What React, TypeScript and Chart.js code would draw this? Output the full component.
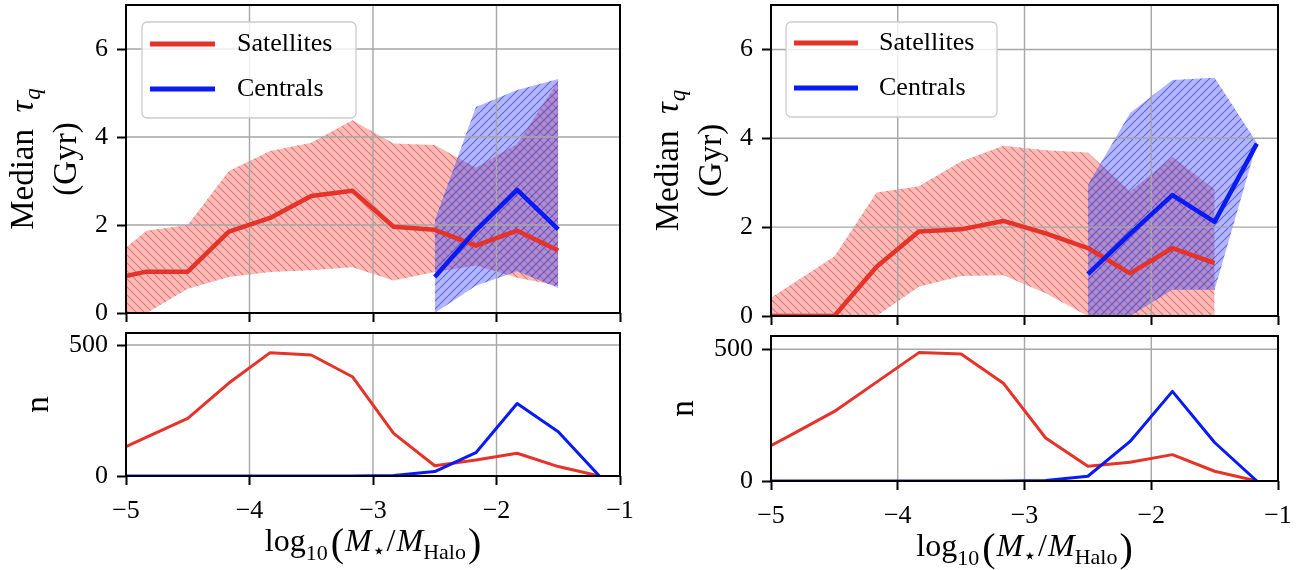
import React, { useEffect, useRef } from "react";
import { Chart, registerables } from "chart.js";

Chart.register(...registerables);

// ---------------- data ----------------
const BIN_CENTERS = [-5.167, -4.833, -4.5, -4.167, -3.833, -3.5, -3.167, -2.833, -2.5, -2.167, -1.833, -1.5, -1.167];
const X_TICKS = [-5, -4, -3, -2, -1];
const Y_TICKS_TOP = [0, 2, 4, 6];
const Y_TICKS_BOT = [0, 500];

// left panel, median tau_q (Gyr)
const SAT_MED_L = [0.74, 0.94, 0.94, 1.85, 2.16, 2.66, 2.78, 1.96, 1.89, 1.53, 1.87, 1.42, null];
const SAT_LO_L = [0, 0, 0.55, 0.82, 0.93, 0.97, 1.04, 0.74, 0.93, 1.08, 0.8, 0.62, null];
const SAT_HI_L = [1.11, 1.87, 2.0, 3.23, 3.68, 3.87, 4.38, 3.85, 3.82, 3.3, 3.84, 5.27, null];
const CEN_MED_L = [null, null, null, null, null, null, null, null, 0.82, 1.88, 2.8, 1.9, null];
const CEN_LO_L = [null, null, null, null, null, null, null, null, 0, 0.62, 0.95, 0.57, null];
const CEN_HI_L = [null, null, null, null, null, null, null, null, 2.1, 4.68, 5.07, 5.32, null];
// left panel, counts
const SAT_N_L = [76, 148, 220, 355, 471, 462, 379, 163, 39, 61, 87, 36, 0];
const CEN_N_L = [0, 0, 0, 0, 0, 0, 0, 2, 17, 89, 277, 169, 0];

// right panel, median tau_q (Gyr)
const SAT_MED_R = [0, 0, 0, 1.11, 1.9, 1.95, 2.14, 1.86, 1.53, 0.96, 1.53, 1.19, null];
const SAT_LO_R = [0, 0, 0, 0, 0.66, 0.9, 0.92, 0.51, 0, 0, 0, 0, null];
const SAT_HI_R = [0.1, 0.72, 1.34, 2.78, 2.92, 3.48, 3.83, 3.73, 3.68, 2.8, 3.58, 2.85, null];
const CEN_MED_R = [null, null, null, null, null, null, null, null, 0.94, 1.85, 2.72, 2.12, 3.88];
const CEN_LO_R = [null, null, null, null, null, null, null, null, 0, 0, 0.59, 0.59, 3.88];
const CEN_HI_R = [null, null, null, null, null, null, null, null, 2.95, 4.57, 5.31, 5.36, 3.9];
// right panel, counts
const SAT_N_R = [91, 177, 264, 375, 487, 482, 371, 163, 56, 71, 100, 37, 0];
const CEN_N_R = [0, 0, 0, 0, 0, 0, 0, 2, 18, 150, 340, 146, 0];

const LEGEND_LABELS = ["Satellites", "Centrals"];

// ---------------- styles ----------------
const RED = "#e5332a";
const BLUE = "#0a1af5";
const GRID = "#a6a6a6";
const SERIF = '"Liberation Serif", "DejaVu Serif", serif';
const F = (size: number, italic = false) => `${italic ? "italic " : ""}${size}px ${SERIF}`;

Chart.defaults.font.family = SERIF;
Chart.defaults.color = "#000";

function pts(vals: (number | null)[]) {
  const out: { x: number; y: number }[] = [];
  vals.forEach((v, i) => {
    if (v !== null && v !== undefined) out.push({ x: BIN_CENTERS[i], y: v });
  });
  return out;
}

function hatch(base: string, line: string, dir: "/" | "\\", size = 8, lw = 1.2) {
  const c = document.createElement("canvas");
  c.width = size;
  c.height = size;
  const g = c.getContext("2d")!;
  g.fillStyle = base;
  g.fillRect(0, 0, size, size);
  g.strokeStyle = line;
  g.lineWidth = lw;
  g.beginPath();
  for (let k = -1; k <= 1; k++) {
    if (dir === "/") {
      g.moveTo(k * size, size);
      g.lineTo(k * size + size, 0);
    } else {
      g.moveTo(k * size, 0);
      g.lineTo(k * size + size, size);
    }
  }
  g.stroke();
  const ctx = document.createElement("canvas").getContext("2d")!;
  return ctx.createPattern(c, "repeat")!;
}

type Piece = { t: string; f: string; dy?: number; gap?: number };

function richWidth(ctx: CanvasRenderingContext2D, pieces: Piece[]) {
  let w = 0;
  for (const p of pieces) {
    ctx.font = p.f;
    w += ctx.measureText(p.t).width + (p.gap || 0);
  }
  return w;
}
function drawRich(ctx: CanvasRenderingContext2D, pieces: Piece[], x: number, y: number) {
  let cx = x;
  for (const p of pieces) {
    ctx.font = p.f;
    ctx.fillText(p.t, cx, y + (p.dy || 0));
    cx += ctx.measureText(p.t).width + (p.gap || 0);
  }
}

const YLAB_TOP_1: Piece[] = [
  { t: "Median", f: F(33) },
  { t: "  ", f: F(33) },
  { t: "\u03c4", f: F(33, true), gap: 1 },
  { t: "q", f: F(23, true), dy: 7 },
];
const YLAB_TOP_2: Piece[] = [{ t: "(Gyr)", f: F(33) }];
const YLAB_BOT: Piece[] = [{ t: "n", f: F(33) }];
const XLAB: Piece[] = [
  { t: "log", f: F(32) },
  { t: "10", f: F(22), dy: 9, gap: 3 },
  { t: "(", f: F(40), dy: 5, gap: 1 },
  { t: "M", f: F(32, true) },
  { t: "\u22c6", f: F(22), dy: 7, gap: 1 },
  { t: "/", f: F(32), gap: 1 },
  { t: "M", f: F(32, true) },
  { t: "Halo", f: F(22), dy: 8, gap: 2 },
  { t: ")", f: F(40), dy: 5 },
];

type Area = { l: number; r: number; t: number; b: number };
type Box = { x: number; y: number; w: number; h: number };
type Legend = { x: number; y: number; w: number; h: number; l0: number; l1: number; tx: number; rows: number[] };
type Panel = {
  key: string;
  box: Box;
  area: Area;
  top: boolean;
  ymax: number;
  yticks: number[];
  legend?: Legend;
  series: any;
};

function topDatasets(med: any[], lo: any[], hi: any[], cmed: any[], clo: any[], chi: any[]) {
  const redPat = hatch("rgba(240,90,85,0.42)", "rgba(200,60,50,0.5)", "\\");
  const bluePat = hatch("rgba(70,80,250,0.42)", "rgba(30,30,180,0.5)", "/");
  const band = { borderColor: "transparent", borderWidth: 1, pointRadius: 0, clip: 0 };
  return [
    { label: "Centrals", data: pts(cmed), borderColor: BLUE, borderWidth: 4.5, pointRadius: 0, fill: false, clip: 0, borderJoinStyle: "round" },
    { label: "Satellites", data: pts(med), borderColor: RED, borderWidth: 4.5, pointRadius: 0, fill: false, clip: 0, borderJoinStyle: "round" },
    { label: "cen_hi", data: pts(chi), ...band, backgroundColor: bluePat, fill: 3 },
    { label: "cen_lo", data: pts(clo), ...band, fill: false },
    { label: "sat_hi", data: pts(hi), ...band, backgroundColor: redPat, fill: 5 },
    { label: "sat_lo", data: pts(lo), ...band, fill: false },
  ];
}
function botDatasets(sat: any[], cen: any[]) {
  return [
    { label: "Centrals", data: pts(cen), borderColor: BLUE, borderWidth: 3, pointRadius: 0, fill: false, clip: 0, borderJoinStyle: "round" },
    { label: "Satellites", data: pts(sat), borderColor: RED, borderWidth: 3, pointRadius: 0, fill: false, clip: 0, borderJoinStyle: "round" },
  ];
}

const PANELS: Panel[] = [
  {
    key: "LT", box: { x: 0, y: 0, w: 640, h: 325 }, area: { l: 126, r: 620, t: 5, b: 313 }, top: true, ymax: 7, yticks: Y_TICKS_TOP,
    legend: { x: 142, y: 22, w: 214, h: 96, l0: 150, l1: 215, tx: 237, rows: [44, 89] },
    series: () => topDatasets(SAT_MED_L, SAT_LO_L, SAT_HI_L, CEN_MED_L, CEN_LO_L, CEN_HI_L),
  },
  {
    key: "LB", box: { x: 0, y: 325, w: 640, h: 245 }, area: { l: 126, r: 620, t: 333, b: 476 }, top: false, ymax: 546, yticks: Y_TICKS_BOT,
    series: () => botDatasets(SAT_N_L, CEN_N_L),
  },
  {
    key: "RT", box: { x: 640, y: 0, w: 672, h: 328 }, area: { l: 771, r: 1278, t: 5, b: 316 }, top: true, ymax: 7, yticks: Y_TICKS_TOP,
    legend: { x: 786, y: 22, w: 211, h: 95, l0: 794, l1: 858, tx: 879, rows: [43, 88] },
    series: () => topDatasets(SAT_MED_R, SAT_LO_R, SAT_HI_R, CEN_MED_R, CEN_LO_R, CEN_HI_R),
  },
  {
    key: "RB", box: { x: 640, y: 328, w: 672, h: 242 }, area: { l: 771, r: 1278, t: 336, b: 481 }, top: false, ymax: 550, yticks: Y_TICKS_BOT,
    series: () => botDatasets(SAT_N_R, CEN_N_R),
  },
];

const fmtMinus = (v: number) => (v < 0 ? "\u2212" + Math.abs(v) : String(v));

function buildChart(canvas: HTMLCanvasElement, p: Panel) {
  const la = { l: p.area.l - p.box.x, r: p.area.r - p.box.x, t: p.area.t - p.box.y, b: p.area.b - p.box.y };
  const decor = {
    id: "decor" + p.key,
    beforeDatasetsDraw(chart: any) {
      const { ctx, chartArea: a, scales } = chart;
      ctx.save();
      ctx.strokeStyle = GRID;
      ctx.lineWidth = 1.4;
      ctx.beginPath();
      for (const v of X_TICKS) {
        const px = scales.x.getPixelForValue(v);
        ctx.moveTo(px, a.top);
        ctx.lineTo(px, a.bottom);
      }
      for (const v of p.yticks) {
        const py = scales.y.getPixelForValue(v);
        ctx.moveTo(a.left, py);
        ctx.lineTo(a.right, py);
      }
      ctx.stroke();
      ctx.restore();
    },
    afterDraw(chart: any) {
      const { ctx, chartArea: a } = chart;
      ctx.save();
      ctx.strokeStyle = "#000";
      ctx.lineWidth = 2;
      ctx.strokeRect(a.left, a.top, a.right - a.left, a.bottom - a.top);

      // legend
      if (p.legend) {
        const L = p.legend;
        const x = L.x - p.box.x, y = L.y - p.box.y, r = 5;
        ctx.beginPath();
        ctx.moveTo(x + r, y);
        ctx.arcTo(x + L.w, y, x + L.w, y + L.h, r);
        ctx.arcTo(x + L.w, y + L.h, x, y + L.h, r);
        ctx.arcTo(x, y + L.h, x, y, r);
        ctx.arcTo(x, y, x + L.w, y, r);
        ctx.closePath();
        ctx.fillStyle = "rgba(255,255,255,0.8)";
        ctx.fill();
        ctx.strokeStyle = "#cccccc";
        ctx.lineWidth = 1.3;
        ctx.stroke();
        const colors = [RED, BLUE];
        L.rows.forEach((ry, i) => {
          const yy = ry - p.box.y;
          ctx.strokeStyle = colors[i];
          ctx.lineWidth = 5;
          ctx.lineCap = "butt";
          ctx.beginPath();
          ctx.moveTo(L.l0 - p.box.x, yy);
          ctx.lineTo(L.l1 - p.box.x, yy);
          ctx.stroke();
          ctx.fillStyle = "#000";
          ctx.font = F(26);
          ctx.textAlign = "left";
          ctx.textBaseline = "middle";
          ctx.fillText(LEGEND_LABELS[i], L.tx - p.box.x, yy);
        });
      }

      // axis labels
      ctx.fillStyle = "#000";
      ctx.textAlign = "left";
      ctx.textBaseline = "alphabetic";
      const cy = (a.top + a.bottom) / 2;
      const lines: [Piece[], number][] = p.top
        ? [[YLAB_TOP_1, a.left - 93], [YLAB_TOP_2, a.left - 50]]
        : [[YLAB_BOT, a.left - 78]];
      for (const [pieces, bx] of lines) {
        const w = richWidth(ctx, pieces);
        ctx.save();
        ctx.translate(bx, cy);
        ctx.rotate(-Math.PI / 2);
        drawRich(ctx, pieces, -w / 2, 0);
        ctx.restore();
      }
      if (!p.top) {
        const w = richWidth(ctx, XLAB);
        drawRich(ctx, XLAB, (a.left + a.right) / 2 - w / 2, a.bottom + 75);
      }
      ctx.restore();
    },
  };

  return new Chart(canvas, {
    type: "line",
    data: { datasets: p.series() },
    options: {
      responsive: false,
      animation: false,
      devicePixelRatio: 1,
      events: [],
      layout: { padding: { left: 0, top: la.t, right: p.box.w - la.r, bottom: 0 } },
      plugins: {
        legend: { display: false },
        tooltip: { enabled: false },
        filler: { drawTime: "beforeDatasetsDraw", propagate: false },
      } as any,
      elements: { point: { radius: 0 }, line: { tension: 0 } },
      scales: {
        x: {
          type: "linear",
          min: -5,
          max: -1,
          afterFit(s: any) {
            s.height = p.box.h - la.b;
            s.paddingLeft = 0;
            s.paddingRight = 0;
          },
          afterBuildTicks(s: any) {
            s.ticks = X_TICKS.map((v) => ({ value: v }));
          },
          ticks: {
            display: !p.top,
            autoSkip: false,
            maxRotation: 0,
            padding: 11,
            font: { size: 26, family: SERIF },
            color: "#000",
            callback: (v: any) => fmtMinus(Number(v)),
          },
          grid: { drawOnChartArea: false, drawTicks: true, tickLength: 9, tickWidth: 2, tickColor: "#000", color: "#000" },
          border: { display: false },
        },
        y: {
          type: "linear",
          min: 0,
          max: p.ymax,
          afterFit(s: any) {
            s.width = la.l;
            s.paddingTop = 0;
            s.paddingBottom = 0;
          },
          afterBuildTicks(s: any) {
            s.ticks = p.yticks.map((v) => ({ value: v }));
          },
          ticks: {
            autoSkip: false,
            padding: 9,
            font: { size: 26, family: SERIF },
            color: "#000",
            callback: (v: any) => String(v),
          },
          grid: { drawOnChartArea: false, drawTicks: true, tickLength: 9, tickWidth: 2, tickColor: "#000", color: "#000" },
          border: { display: false },
        },
      } as any,
    },
    plugins: [decor],
  } as any);
}

export default function App() {
  const r0 = useRef<HTMLCanvasElement>(null);
  const r1 = useRef<HTMLCanvasElement>(null);
  const r2 = useRef<HTMLCanvasElement>(null);
  const r3 = useRef<HTMLCanvasElement>(null);
  const refs = [r0, r1, r2, r3];
  useEffect(() => {
    const charts = PANELS.map((p, i) => buildChart(refs[i].current!, p));
    return () => charts.forEach((c) => c.destroy());
  }, []);
  return (
    <div style={{ position: "absolute", left: 0, top: 0, width: 1312, height: 570, background: "#fff" }}>
      {PANELS.map((p, i) => (
        <canvas
          key={p.key}
          ref={refs[i]}
          width={p.box.w}
          height={p.box.h}
          style={{ position: "absolute", left: p.box.x, top: p.box.y, width: p.box.w, height: p.box.h }}
        />
      ))}
    </div>
  );
}
